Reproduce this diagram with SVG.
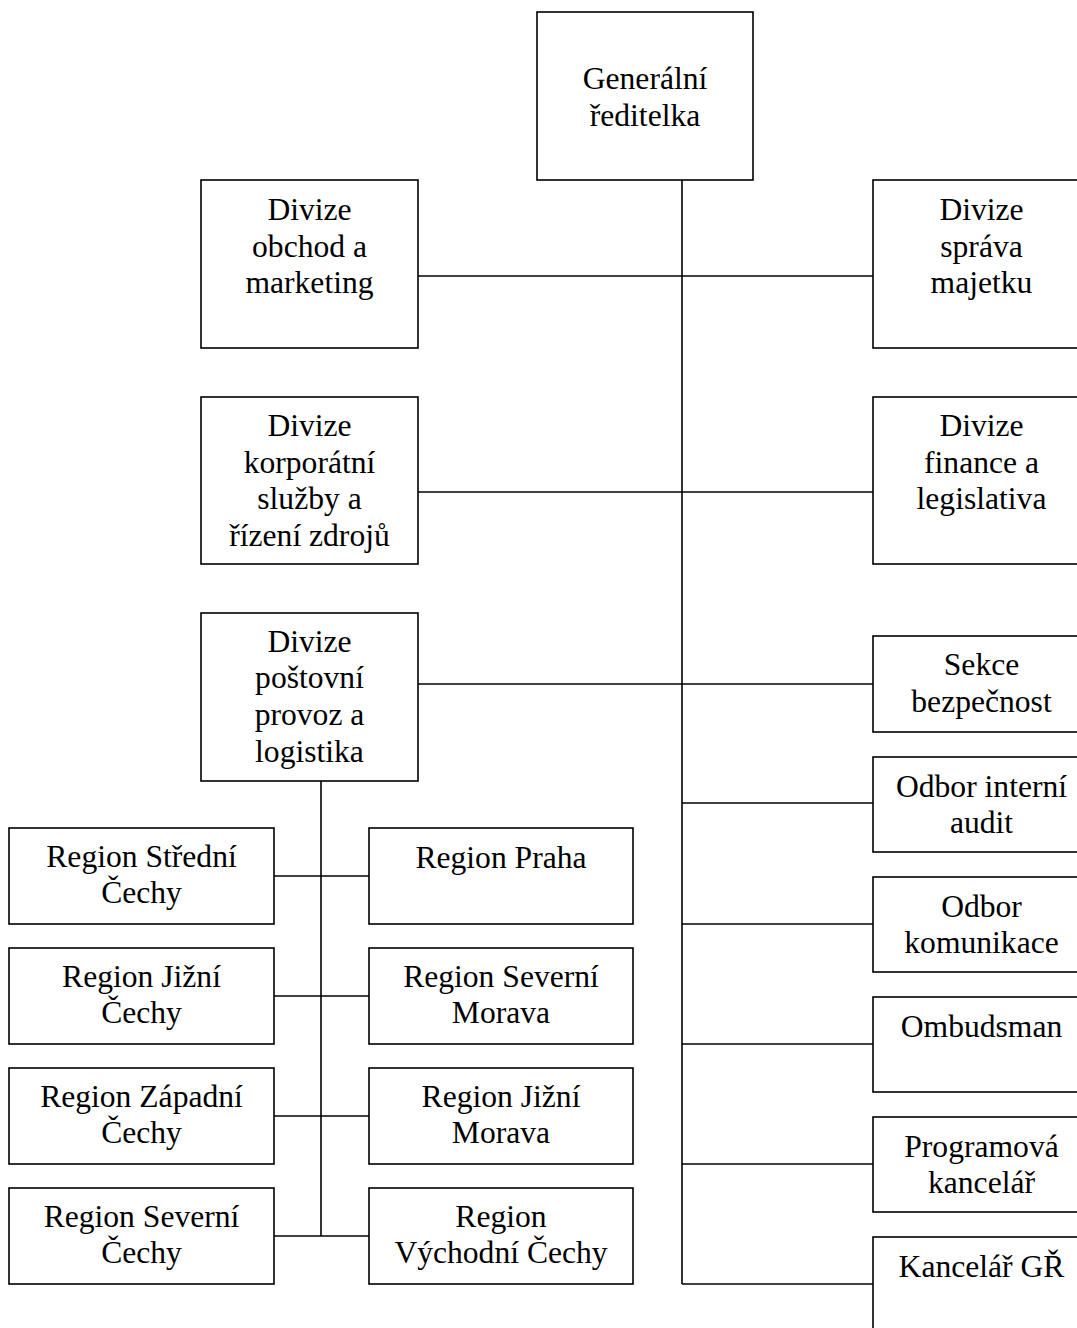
<svg xmlns="http://www.w3.org/2000/svg" width="1077" height="1328" viewBox="0 0 1077 1328">
<style>
rect{fill:#fff;stroke:#000;stroke-width:1.6}
text{font-family:"Liberation Serif","Times New Roman",serif;font-size:31.6px;fill:#000;text-anchor:middle}
.c line{stroke:#000;stroke-width:1.6}
</style>
<rect x="0" y="0" width="1077" height="1328" style="stroke:none"/>
<g class="c" id="connectors">
<line x1="682" y1="180" x2="682" y2="1284"/>
<line x1="418" y1="276" x2="873" y2="276"/>
<line x1="418" y1="492" x2="873" y2="492"/>
<line x1="418" y1="684" x2="873" y2="684"/>
<line x1="682" y1="803" x2="873" y2="803"/>
<line x1="682" y1="924" x2="873" y2="924"/>
<line x1="682" y1="1044" x2="873" y2="1044"/>
<line x1="682" y1="1164" x2="873" y2="1164"/>
<line x1="682" y1="1284" x2="873" y2="1284"/>
<line x1="321" y1="781" x2="321" y2="1236"/>
<line x1="274" y1="876" x2="369" y2="876"/>
<line x1="274" y1="996" x2="369" y2="996"/>
<line x1="274" y1="1116" x2="369" y2="1116"/>
<line x1="274" y1="1236" x2="369" y2="1236"/>
</g>
<g id="n-gr"><rect x="537" y="12" width="216" height="168"/><text x="645" y="89">Generální</text><text x="645" y="126">ředitelka</text></g>
<g id="n-obchod"><rect x="201" y="180" width="217" height="168"/><text x="309.5" y="220">Divize</text><text x="309.5" y="257">obchod a</text><text x="309.5" y="293">marketing</text></g>
<g id="n-sprava"><rect x="873" y="180" width="217" height="168"/><text x="981.5" y="220">Divize</text><text x="981.5" y="257">správa</text><text x="981.5" y="293">majetku</text></g>
<g id="n-korp"><rect x="201" y="397" width="217" height="167"/><text x="309.5" y="436">Divize</text><text x="309.5" y="473">korporátní</text><text x="309.5" y="509">služby a</text><text x="309.5" y="546">řízení zdrojů</text></g>
<g id="n-finance"><rect x="873" y="397" width="217" height="167"/><text x="981.5" y="436">Divize</text><text x="981.5" y="473">finance a</text><text x="981.5" y="509">legislativa</text></g>
<g id="n-postovni"><rect x="201" y="613" width="217" height="168"/><text x="309.5" y="652">Divize</text><text x="309.5" y="688">poštovní</text><text x="309.5" y="725">provoz a</text><text x="309.5" y="762">logistika</text></g>
<g id="n-bezp"><rect x="873" y="636" width="217" height="96"/><text x="981.5" y="675">Sekce</text><text x="981.5" y="712">bezpečnost</text></g>
<g id="n-audit"><rect x="873" y="757" width="217" height="95"/><text x="981.5" y="797">Odbor interní</text><text x="981.5" y="833">audit</text></g>
<g id="n-komunikace"><rect x="873" y="877" width="217" height="95"/><text x="981.5" y="917">Odbor</text><text x="981.5" y="953">komunikace</text></g>
<g id="n-ombudsman"><rect x="873" y="997" width="217" height="95"/><text x="981.5" y="1037">Ombudsman</text></g>
<g id="n-program"><rect x="873" y="1117" width="217" height="95"/><text x="981.5" y="1157">Programová</text><text x="981.5" y="1193">kancelář</text></g>
<g id="n-kancelar"><rect x="873" y="1237" width="217" height="120"/><text x="981.5" y="1277">Kancelář GŘ</text></g>
<g id="n-r-stredni"><rect x="9" y="828" width="265" height="96"/><text x="141.5" y="867">Region Střední</text><text x="141.5" y="903">Čechy</text></g>
<g id="n-r-jizni-c"><rect x="9" y="948" width="265" height="96"/><text x="141.5" y="987">Region Jižní</text><text x="141.5" y="1023">Čechy</text></g>
<g id="n-r-zapadni"><rect x="9" y="1068" width="265" height="96"/><text x="141.5" y="1107">Region Západní</text><text x="141.5" y="1143">Čechy</text></g>
<g id="n-r-severni-c"><rect x="9" y="1188" width="265" height="96"/><text x="141.5" y="1227">Region Severní</text><text x="141.5" y="1263">Čechy</text></g>
<g id="n-r-praha"><rect x="369" y="828" width="264" height="96"/><text x="501" y="868">Region Praha</text></g>
<g id="n-r-severni-m"><rect x="369" y="948" width="264" height="96"/><text x="501" y="987">Region Severní</text><text x="501" y="1023">Morava</text></g>
<g id="n-r-jizni-m"><rect x="369" y="1068" width="264" height="96"/><text x="501" y="1107">Region Jižní</text><text x="501" y="1143">Morava</text></g>
<g id="n-r-vychodni"><rect x="369" y="1188" width="264" height="96"/><text x="501" y="1227">Region</text><text x="501" y="1263">Východní Čechy</text></g>
</svg>
